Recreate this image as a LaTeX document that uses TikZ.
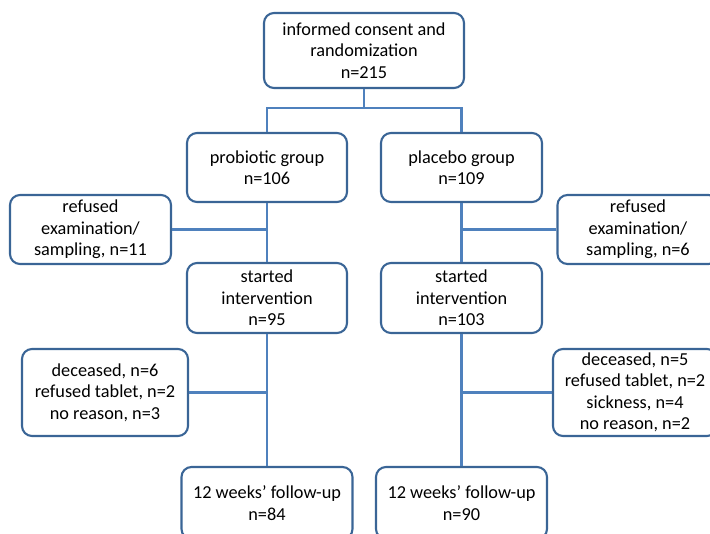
\documentclass[tikz,border=0pt]{standalone}
\usepackage{fontspec}
\setmainfont{Carlito}
\usepackage{tikz}

\definecolor{boxblue}{RGB}{58,101,150}
\definecolor{lineblue}{RGB}{79,129,189}

\begin{document}
\begin{tikzpicture}
        \tikzstyle{box}=[draw=boxblue, line width=1.2pt, rounded corners=0.2cm, align=center, inner sep=0pt, font=\fontsize{10.4}{12.2}\selectfont];
        \tikzstyle{link}=[draw=lineblue, line width=1.4pt];
        \useasboundingbox (0,0) rectangle (14.2,-10.68);
        \clip (0,0) rectangle (14.2,-10.68);

        \node [box, minimum width=4cm, minimum height=1.5cm] (v1) at (7.28,-1.01) {informed consent and\\randomization\\n=215};
        \node [box, minimum width=3.2cm, minimum height=1.38cm] (v2) at (5.34,-3.35) {probiotic group\\n=106};
        \node [box, minimum width=3.22cm, minimum height=1.38cm] (v3) at (9.23,-3.35) {placebo group\\n=109};
        \coordinate (c1) at (7.28,-2.16);
        \draw [link] (v1) -- (c1);
        \draw [link] (v2) |- (c1) -| (v3);

        \node [box, minimum width=3.22cm, minimum height=1.38cm] (v4) at (1.81,-4.59) {refused\\examination/\\sampling, n=11};
        \node [box, minimum width=3.22cm, minimum height=1.38cm] (v5) at (12.76,-4.59) {refused\\examination/\\sampling, n=6};
        \node [box, minimum width=3.2cm, minimum height=1.4cm] (v6) at (5.34,-5.96) {started\\intervention\\n=95};
        \node [box, minimum width=3.22cm, minimum height=1.4cm] (v7) at (9.23,-5.96) {started\\intervention\\n=103};
        \draw [link] (v2) -- (v6);
        \draw [link] (v3) -- (v7);
        \draw [link] (v4) -- (v2 |- v4);
        \draw [link] (v5) -- (v3 |- v5);

        \node [box, minimum width=3.32cm, minimum height=1.74cm] (v8) at (2.1,-7.85) {deceased, n=6\\refused tablet, n=2\\no reason, n=3};
        \node [box, minimum width=3.28cm, minimum height=1.74cm] (v9) at (12.7,-7.85) {deceased, n=5\\refused tablet, n=2\\sickness, n=4\\no reason, n=2};
        \node [box, minimum width=3.42cm, minimum height=1.44cm] (v10) at (5.34,-10.06) {12 weeks’ follow-up\\n=84};
        \node [box, minimum width=3.42cm, minimum height=1.44cm] (v11) at (9.23,-10.06) {12 weeks’ follow-up\\n=90};
        \draw [link] (v6) -- (v10);
        \draw [link] (v7) -- (v11);
        \draw [link] (v8) -- (v6 |- v8);
        \draw [link] (v9) -- (v7 |- v9);
\end{tikzpicture}
\end{document}
